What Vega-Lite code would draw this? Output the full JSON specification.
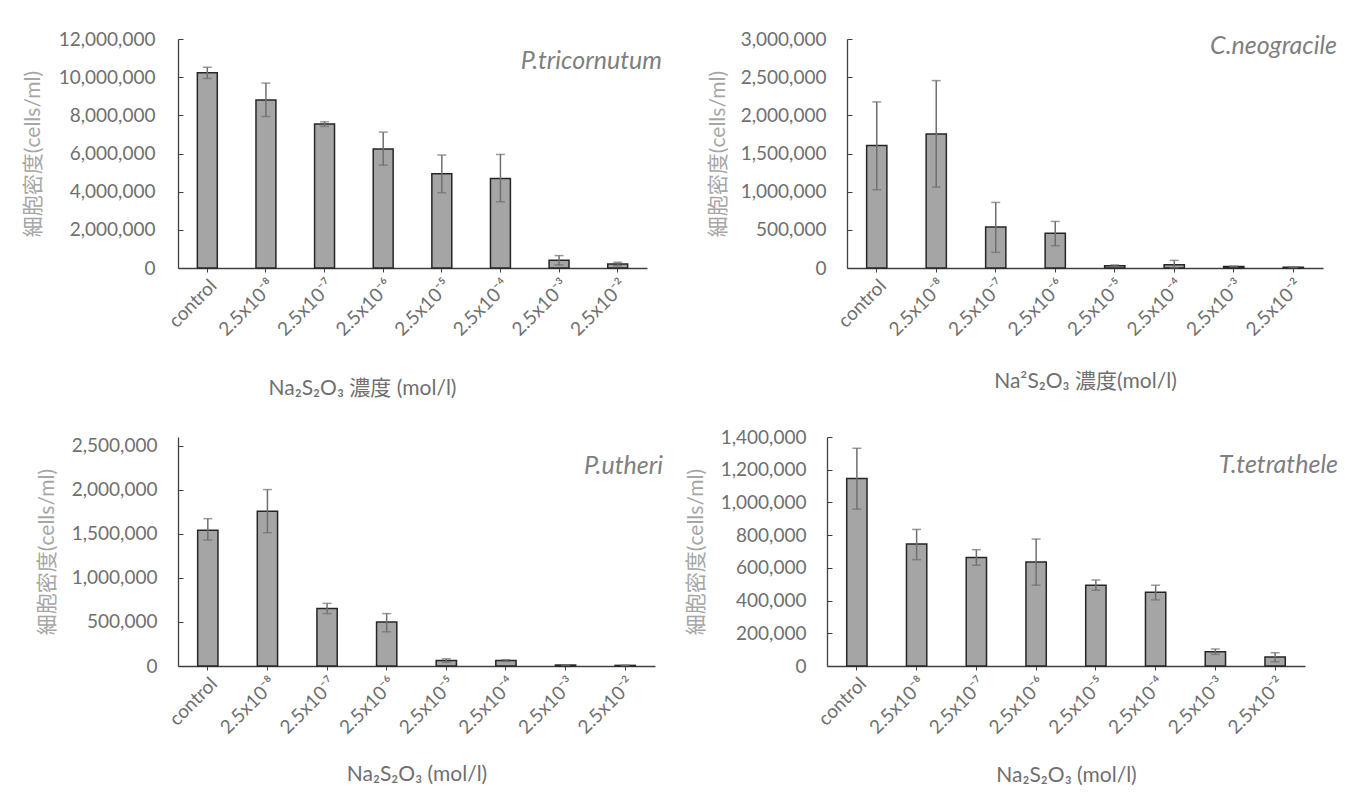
{
  "$schema": "https://vega.github.io/schema/vega-lite/v6.json",
  "background": "white",
  "padding": {"left": 22, "top": 30, "right": 0, "bottom": 0},
  "config": {"view": {"stroke": null}, "font": "Lato"},
  "datasets": {
    "pt": [
      {"conc": "control", "mean": 10230000, "lo": 9930000, "hi": 10520000},
      {"conc": "2.5x10⁻⁸", "mean": 8800000, "lo": 7940000, "hi": 9690000},
      {"conc": "2.5x10⁻⁷", "mean": 7540000, "lo": 7420000, "hi": 7660000},
      {"conc": "2.5x10⁻⁶", "mean": 6230000, "lo": 5390000, "hi": 7120000},
      {"conc": "2.5x10⁻⁵", "mean": 4940000, "lo": 3940000, "hi": 5920000},
      {"conc": "2.5x10⁻⁴", "mean": 4690000, "lo": 3470000, "hi": 5950000},
      {"conc": "2.5x10⁻³", "mean": 400000, "lo": 160000, "hi": 650000},
      {"conc": "2.5x10⁻²", "mean": 210000, "lo": 120000, "hi": 300000}
    ],
    "cn": [
      {"conc": "control", "mean": 1605000, "lo": 1025000, "hi": 2176000},
      {"conc": "2.5x10⁻⁸", "mean": 1757000, "lo": 1060000, "hi": 2455000},
      {"conc": "2.5x10⁻⁷", "mean": 536000, "lo": 205000, "hi": 859000},
      {"conc": "2.5x10⁻⁶", "mean": 454000, "lo": 292000, "hi": 610000},
      {"conc": "2.5x10⁻⁵", "mean": 30000, "lo": 20000, "hi": 40000},
      {"conc": "2.5x10⁻⁴", "mean": 44000, "lo": 5000, "hi": 100000},
      {"conc": "2.5x10⁻³", "mean": 20000, "lo": 15000, "hi": 25000},
      {"conc": "2.5x10⁻²", "mean": 10000, "lo": 5000, "hi": 15000}
    ],
    "pu": [
      {"conc": "control", "mean": 1542000, "lo": 1430000, "hi": 1673000},
      {"conc": "2.5x10⁻⁸", "mean": 1756000, "lo": 1513000, "hi": 2003000},
      {"conc": "2.5x10⁻⁷", "mean": 653000, "lo": 595000, "hi": 711000},
      {"conc": "2.5x10⁻⁶", "mean": 500000, "lo": 388000, "hi": 595000},
      {"conc": "2.5x10⁻⁵", "mean": 62000, "lo": 42000, "hi": 82000},
      {"conc": "2.5x10⁻⁴", "mean": 62000, "lo": 52000, "hi": 72000},
      {"conc": "2.5x10⁻³", "mean": 11000, "lo": 8000, "hi": 14000},
      {"conc": "2.5x10⁻²", "mean": 7000, "lo": 5000, "hi": 9000}
    ],
    "tt": [
      {"conc": "control", "mean": 1146000, "lo": 959000, "hi": 1331000},
      {"conc": "2.5x10⁻⁸", "mean": 746000, "lo": 650000, "hi": 835000},
      {"conc": "2.5x10⁻⁷", "mean": 663000, "lo": 616000, "hi": 711000},
      {"conc": "2.5x10⁻⁶", "mean": 636000, "lo": 494000, "hi": 776000},
      {"conc": "2.5x10⁻⁵", "mean": 494000, "lo": 463000, "hi": 526000},
      {"conc": "2.5x10⁻⁴", "mean": 451000, "lo": 404000, "hi": 494000},
      {"conc": "2.5x10⁻³", "mean": 87000, "lo": 71000, "hi": 104000},
      {"conc": "2.5x10⁻²", "mean": 55000, "lo": 26000, "hi": 81000}
    ]
  },
  "columns": 1,
  "align": "none",
  "spacing": 29,
  "concat": [
    {
      "spacing": 200,
      "bounds": "flush",
      "hconcat": [
        {
          "width": 469, "height": 229,
          "data": {"name": "pt"},
          "title": {"text": "P.tricornutum", "orient": "top", "anchor": "end", "frame": "group", "offset": -64, "dx": 15, "baseline": "alphabetic", "font": "Lato", "fontSize": 25, "fontStyle": "italic", "fontWeight": "normal", "color": "#7f7f7f"},
          "encoding": {
            "x": {"field": "conc", "type": "nominal", "sort": null, "scale": {"paddingInner": 0, "paddingOuter": 0},
              "axis": {"title": "Na₂S₂O₃ 濃度 (mol/l)", "titleX": 184, "titleAlign": "center", "titleFont": "Lato, Noto Sans CJK JP", "titleFontSize": 21, "titleFontWeight": "normal", "titleColor": "#6f6f6f", "titlePadding": 38, "labelAngle": -45, "labelFont": "Lato", "labelFontSize": 19, "labelColor": "#6f6f6f", "labelPadding": 4, "tickSize": 4, "tickColor": "#404040", "domainColor": "#404040", "domainWidth": 1.3}}
          },
          "layer": [
            {"mark": {"type": "bar", "width": {"band": 0.34}, "fill": "#a5a5a5", "stroke": "#262626", "strokeWidth": 1.5},
             "encoding": {"y": {"field": "mean", "type": "quantitative", "scale": {"domain": [0, 12000000]},
               "axis": {"values": [0, 2000000, 4000000, 6000000, 8000000, 10000000, 12000000], "tickCount": 7, "labelOverlap": false, "format": ",d", "grid": false, "tickSize": -5, "tickColor": "#404040", "domainColor": "#404040", "domainWidth": 1.3, "labelFont": "Lato", "labelFontSize": 19, "labelColor": "#6f6f6f", "labelPadding": 28, "title": "細胞密度(cells/ml)", "titleFont": "Lato, Noto Sans CJK JP", "titleFontSize": 21, "titleFontWeight": "normal", "titleColor": "#a6a6a6", "titlePadding": 15}}}},
            {"mark": {"type": "rule", "color": "#6f6f6f", "strokeWidth": 1.5}, "encoding": {"y": {"field": "lo", "type": "quantitative", "axis": {"values": [0, 2000000, 4000000, 6000000, 8000000, 10000000, 12000000], "tickCount": 7, "labelOverlap": false, "format": ",d", "grid": false, "tickSize": -5, "tickColor": "#404040", "domainColor": "#404040", "domainWidth": 1.3, "labelFont": "Lato", "labelFontSize": 19, "labelColor": "#6f6f6f", "labelPadding": 28, "title": "細胞密度(cells/ml)", "titleFont": "Lato, Noto Sans CJK JP", "titleFontSize": 21, "titleFontWeight": "normal", "titleColor": "#a6a6a6", "titlePadding": 15}}, "y2": {"field": "hi"}}},
            {"mark": {"type": "tick", "color": "#6f6f6f", "size": 9, "thickness": 1.5}, "encoding": {"y": {"field": "lo", "type": "quantitative", "axis": {"values": [0, 2000000, 4000000, 6000000, 8000000, 10000000, 12000000], "tickCount": 7, "labelOverlap": false, "format": ",d", "grid": false, "tickSize": -5, "tickColor": "#404040", "domainColor": "#404040", "domainWidth": 1.3, "labelFont": "Lato", "labelFontSize": 19, "labelColor": "#6f6f6f", "labelPadding": 28, "title": "細胞密度(cells/ml)", "titleFont": "Lato, Noto Sans CJK JP", "titleFontSize": 21, "titleFontWeight": "normal", "titleColor": "#a6a6a6", "titlePadding": 15}}}},
            {"mark": {"type": "tick", "color": "#6f6f6f", "size": 9, "thickness": 1.5}, "encoding": {"y": {"field": "hi", "type": "quantitative", "axis": {"values": [0, 2000000, 4000000, 6000000, 8000000, 10000000, 12000000], "tickCount": 7, "labelOverlap": false, "format": ",d", "grid": false, "tickSize": -5, "tickColor": "#404040", "domainColor": "#404040", "domainWidth": 1.3, "labelFont": "Lato", "labelFontSize": 19, "labelColor": "#6f6f6f", "labelPadding": 28, "title": "細胞密度(cells/ml)", "titleFont": "Lato, Noto Sans CJK JP", "titleFontSize": 21, "titleFontWeight": "normal", "titleColor": "#a6a6a6", "titlePadding": 15}}}}
          ]
        },
        {
          "width": 476, "height": 229,
          "data": {"name": "cn"},
          "title": {"text": "C.neogracile", "orient": "top", "anchor": "end", "frame": "group", "offset": -49, "dx": 14, "baseline": "alphabetic", "font": "Lato", "fontSize": 25, "fontStyle": "italic", "fontWeight": "normal", "color": "#7f7f7f"},
          "encoding": {
            "x": {"field": "conc", "type": "nominal", "sort": null, "scale": {"paddingInner": 0, "paddingOuter": 0},
              "axis": {"title": "Na²S₂O₃  濃度(mol/l)", "titleFont": "Lato, Noto Sans CJK JP", "titleFontSize": 21, "titleFontWeight": "normal", "titleColor": "#6f6f6f", "titlePadding": 31, "labelAngle": -45, "labelFont": "Lato", "labelFontSize": 19, "labelColor": "#6f6f6f", "labelPadding": 4, "tickSize": 4, "tickColor": "#404040", "domainColor": "#404040", "domainWidth": 1.3}}
          },
          "layer": [
            {"mark": {"type": "bar", "width": {"band": 0.34}, "fill": "#a5a5a5", "stroke": "#262626", "strokeWidth": 1.5},
             "encoding": {"y": {"field": "mean", "type": "quantitative", "scale": {"domain": [0, 3000000]},
               "axis": {"values": [0, 500000, 1000000, 1500000, 2000000, 2500000, 3000000], "tickCount": 7, "labelOverlap": false, "format": ",d", "grid": false, "tickSize": -5, "tickColor": "#404040", "domainColor": "#404040", "domainWidth": 1.3, "labelFont": "Lato", "labelFontSize": 19, "labelColor": "#6f6f6f", "labelPadding": 26, "title": "細胞密度(cells/ml)", "titleFont": "Lato, Noto Sans CJK JP", "titleFontSize": 21, "titleFontWeight": "normal", "titleColor": "#a6a6a6", "titlePadding": 12}}}},
            {"mark": {"type": "rule", "color": "#6f6f6f", "strokeWidth": 1.5}, "encoding": {"y": {"field": "lo", "type": "quantitative", "axis": {"values": [0, 500000, 1000000, 1500000, 2000000, 2500000, 3000000], "tickCount": 7, "labelOverlap": false, "format": ",d", "grid": false, "tickSize": -5, "tickColor": "#404040", "domainColor": "#404040", "domainWidth": 1.3, "labelFont": "Lato", "labelFontSize": 19, "labelColor": "#6f6f6f", "labelPadding": 26, "title": "細胞密度(cells/ml)", "titleFont": "Lato, Noto Sans CJK JP", "titleFontSize": 21, "titleFontWeight": "normal", "titleColor": "#a6a6a6", "titlePadding": 12}}, "y2": {"field": "hi"}}},
            {"mark": {"type": "tick", "color": "#6f6f6f", "size": 9, "thickness": 1.5}, "encoding": {"y": {"field": "lo", "type": "quantitative", "axis": {"values": [0, 500000, 1000000, 1500000, 2000000, 2500000, 3000000], "tickCount": 7, "labelOverlap": false, "format": ",d", "grid": false, "tickSize": -5, "tickColor": "#404040", "domainColor": "#404040", "domainWidth": 1.3, "labelFont": "Lato", "labelFontSize": 19, "labelColor": "#6f6f6f", "labelPadding": 26, "title": "細胞密度(cells/ml)", "titleFont": "Lato, Noto Sans CJK JP", "titleFontSize": 21, "titleFontWeight": "normal", "titleColor": "#a6a6a6", "titlePadding": 12}}}},
            {"mark": {"type": "tick", "color": "#6f6f6f", "size": 9, "thickness": 1.5}, "encoding": {"y": {"field": "hi", "type": "quantitative", "axis": {"values": [0, 500000, 1000000, 1500000, 2000000, 2500000, 3000000], "tickCount": 7, "labelOverlap": false, "format": ",d", "grid": false, "tickSize": -5, "tickColor": "#404040", "domainColor": "#404040", "domainWidth": 1.3, "labelFont": "Lato", "labelFontSize": 19, "labelColor": "#6f6f6f", "labelPadding": 26, "title": "細胞密度(cells/ml)", "titleFont": "Lato, Noto Sans CJK JP", "titleFontSize": 21, "titleFontWeight": "normal", "titleColor": "#a6a6a6", "titlePadding": 12}}}}
          ]
        }
      ]
    },
    {
      "spacing": 172,
      "bounds": "flush",
      "hconcat": [
        {
          "width": 477, "height": 229,
          "data": {"name": "pu"},
          "title": {"text": "P.utheri", "orient": "top", "anchor": "end", "frame": "group", "offset": -62, "dx": 8, "baseline": "alphabetic", "font": "Lato", "fontSize": 25, "fontStyle": "italic", "fontWeight": "normal", "color": "#7f7f7f"},
          "encoding": {
            "x": {"field": "conc", "type": "nominal", "sort": null, "scale": {"paddingInner": 0, "paddingOuter": 0},
              "axis": {"title": "Na₂S₂O₃  (mol/l)", "titleFont": "Lato, Noto Sans CJK JP", "titleFontSize": 21, "titleFontWeight": "normal", "titleColor": "#6f6f6f", "titlePadding": 26, "labelAngle": -45, "labelFont": "Lato", "labelFontSize": 19, "labelColor": "#6f6f6f", "labelPadding": 4, "tickSize": 4, "tickColor": "#404040", "domainColor": "#404040", "domainWidth": 1.3}}
          },
          "layer": [
            {"mark": {"type": "bar", "width": {"band": 0.34}, "fill": "#a5a5a5", "stroke": "#262626", "strokeWidth": 1.5},
             "encoding": {"y": {"field": "mean", "type": "quantitative", "scale": {"domain": [0, 2500000]},
               "axis": {"values": [0, 500000, 1000000, 1500000, 2000000, 2500000], "tickCount": 6, "labelOverlap": false, "format": ",d", "grid": false, "tickSize": -5, "tickColor": "#404040", "domainColor": "#404040", "domainWidth": 1.3, "labelFont": "Lato", "labelFontSize": 19, "labelColor": "#6f6f6f", "labelPadding": 26, "title": "細胞密度(cells/ml)", "titleFont": "Lato, Noto Sans CJK JP", "titleFontSize": 21, "titleFontWeight": "normal", "titleColor": "#a6a6a6", "titlePadding": 14}}}},
            {"mark": {"type": "rule", "color": "#6f6f6f", "strokeWidth": 1.5}, "encoding": {"y": {"field": "lo", "type": "quantitative", "axis": {"values": [0, 500000, 1000000, 1500000, 2000000, 2500000], "tickCount": 6, "labelOverlap": false, "format": ",d", "grid": false, "tickSize": -5, "tickColor": "#404040", "domainColor": "#404040", "domainWidth": 1.3, "labelFont": "Lato", "labelFontSize": 19, "labelColor": "#6f6f6f", "labelPadding": 26, "title": "細胞密度(cells/ml)", "titleFont": "Lato, Noto Sans CJK JP", "titleFontSize": 21, "titleFontWeight": "normal", "titleColor": "#a6a6a6", "titlePadding": 14}}, "y2": {"field": "hi"}}},
            {"mark": {"type": "tick", "color": "#6f6f6f", "size": 9, "thickness": 1.5}, "encoding": {"y": {"field": "lo", "type": "quantitative", "axis": {"values": [0, 500000, 1000000, 1500000, 2000000, 2500000], "tickCount": 6, "labelOverlap": false, "format": ",d", "grid": false, "tickSize": -5, "tickColor": "#404040", "domainColor": "#404040", "domainWidth": 1.3, "labelFont": "Lato", "labelFontSize": 19, "labelColor": "#6f6f6f", "labelPadding": 26, "title": "細胞密度(cells/ml)", "titleFont": "Lato, Noto Sans CJK JP", "titleFontSize": 21, "titleFontWeight": "normal", "titleColor": "#a6a6a6", "titlePadding": 14}}}},
            {"mark": {"type": "tick", "color": "#6f6f6f", "size": 9, "thickness": 1.5}, "encoding": {"y": {"field": "hi", "type": "quantitative", "axis": {"values": [0, 500000, 1000000, 1500000, 2000000, 2500000], "tickCount": 6, "labelOverlap": false, "format": ",d", "grid": false, "tickSize": -5, "tickColor": "#404040", "domainColor": "#404040", "domainWidth": 1.3, "labelFont": "Lato", "labelFontSize": 19, "labelColor": "#6f6f6f", "labelPadding": 26, "title": "細胞密度(cells/ml)", "titleFont": "Lato, Noto Sans CJK JP", "titleFontSize": 21, "titleFontWeight": "normal", "titleColor": "#a6a6a6", "titlePadding": 14}}}}
          ]
        },
        {
          "width": 478, "height": 229,
          "data": {"name": "tt"},
          "title": {"text": "T.tetrathele", "orient": "top", "anchor": "end", "frame": "group", "offset": -70, "dx": 33, "baseline": "alphabetic", "font": "Lato", "fontSize": 25, "fontStyle": "italic", "fontWeight": "normal", "color": "#7f7f7f"},
          "encoding": {
            "x": {"field": "conc", "type": "nominal", "sort": null, "scale": {"paddingInner": 0, "paddingOuter": 0},
              "axis": {"title": "Na₂S₂O₃  (mol/l)", "titleFont": "Lato, Noto Sans CJK JP", "titleFontSize": 21, "titleFontWeight": "normal", "titleColor": "#6f6f6f", "titlePadding": 27, "labelAngle": -45, "labelFont": "Lato", "labelFontSize": 19, "labelColor": "#6f6f6f", "labelPadding": 4, "tickSize": 4, "tickColor": "#404040", "domainColor": "#404040", "domainWidth": 1.3}}
          },
          "layer": [
            {"mark": {"type": "bar", "width": {"band": 0.34}, "fill": "#a5a5a5", "stroke": "#262626", "strokeWidth": 1.5},
             "encoding": {"y": {"field": "mean", "type": "quantitative", "scale": {"domain": [0, 1400000]},
               "axis": {"values": [0, 200000, 400000, 600000, 800000, 1000000, 1200000, 1400000], "tickCount": 8, "labelOverlap": false, "format": ",d", "grid": false, "tickSize": -5, "tickColor": "#404040", "domainColor": "#404040", "domainWidth": 1.3, "labelFont": "Lato", "labelFontSize": 19, "labelColor": "#6f6f6f", "labelPadding": 26, "title": "細胞密度(cells/ml)", "titleFont": "Lato, Noto Sans CJK JP", "titleFontSize": 21, "titleFontWeight": "normal", "titleColor": "#a6a6a6", "titlePadding": 14}}}},
            {"mark": {"type": "rule", "color": "#6f6f6f", "strokeWidth": 1.5}, "encoding": {"y": {"field": "lo", "type": "quantitative", "axis": {"values": [0, 200000, 400000, 600000, 800000, 1000000, 1200000, 1400000], "tickCount": 8, "labelOverlap": false, "format": ",d", "grid": false, "tickSize": -5, "tickColor": "#404040", "domainColor": "#404040", "domainWidth": 1.3, "labelFont": "Lato", "labelFontSize": 19, "labelColor": "#6f6f6f", "labelPadding": 26, "title": "細胞密度(cells/ml)", "titleFont": "Lato, Noto Sans CJK JP", "titleFontSize": 21, "titleFontWeight": "normal", "titleColor": "#a6a6a6", "titlePadding": 14}}, "y2": {"field": "hi"}}},
            {"mark": {"type": "tick", "color": "#6f6f6f", "size": 9, "thickness": 1.5}, "encoding": {"y": {"field": "lo", "type": "quantitative", "axis": {"values": [0, 200000, 400000, 600000, 800000, 1000000, 1200000, 1400000], "tickCount": 8, "labelOverlap": false, "format": ",d", "grid": false, "tickSize": -5, "tickColor": "#404040", "domainColor": "#404040", "domainWidth": 1.3, "labelFont": "Lato", "labelFontSize": 19, "labelColor": "#6f6f6f", "labelPadding": 26, "title": "細胞密度(cells/ml)", "titleFont": "Lato, Noto Sans CJK JP", "titleFontSize": 21, "titleFontWeight": "normal", "titleColor": "#a6a6a6", "titlePadding": 14}}}},
            {"mark": {"type": "tick", "color": "#6f6f6f", "size": 9, "thickness": 1.5}, "encoding": {"y": {"field": "hi", "type": "quantitative", "axis": {"values": [0, 200000, 400000, 600000, 800000, 1000000, 1200000, 1400000], "tickCount": 8, "labelOverlap": false, "format": ",d", "grid": false, "tickSize": -5, "tickColor": "#404040", "domainColor": "#404040", "domainWidth": 1.3, "labelFont": "Lato", "labelFontSize": 19, "labelColor": "#6f6f6f", "labelPadding": 26, "title": "細胞密度(cells/ml)", "titleFont": "Lato, Noto Sans CJK JP", "titleFontSize": 21, "titleFontWeight": "normal", "titleColor": "#a6a6a6", "titlePadding": 14}}}}
          ]
        }
      ]
    }
  ]
}
